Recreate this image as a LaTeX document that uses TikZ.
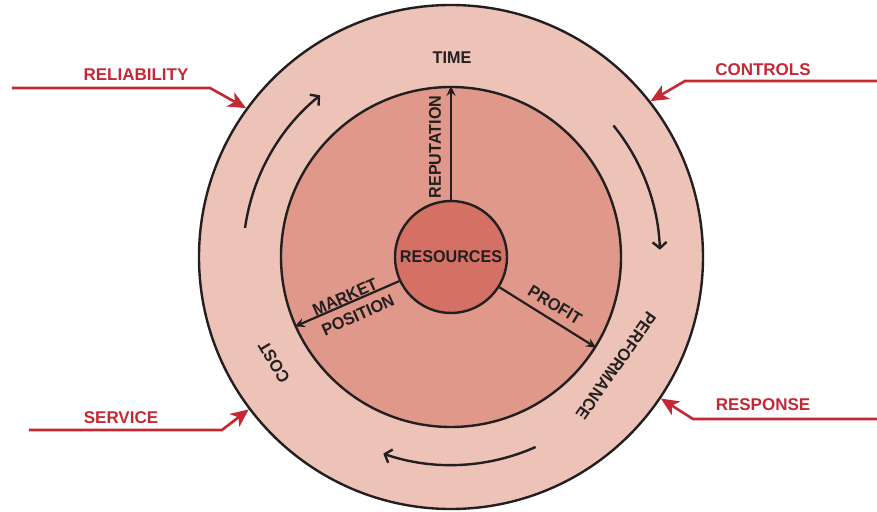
\documentclass[tikz,border=0pt]{standalone}
\usepackage{fontspec}
\setmainfont{Liberation Sans}
\newfontfamily\lblfont[FakeStretch=0.95]{Liberation Sans}
\usetikzlibrary{arrows.meta}
\definecolor{ringc}{RGB}{237,195,183}
\definecolor{midc}{RGB}{224,152,138}
\definecolor{corec}{RGB}{212,112,100}
\definecolor{redc}{RGB}{196,40,52}
\definecolor{inkc}{RGB}{35,31,32}
\begin{document}
\begin{tikzpicture}[x=1pt,y=1pt,
  ring/.style={circle,draw=inkc,line width=2.4pt,inner sep=0pt},
  lbl/.style={font=\lblfont\bfseries\fontsize{17}{19}\selectfont,text=inkc,inner sep=0pt},
  redlbl/.style={font=\bfseries\fontsize{17}{19}\selectfont,text=redc,inner sep=0pt},
  redarrow/.style={draw=redc,line width=2.6pt,-{Stealth[length=18pt,width=16pt,inset=5pt]}},
  spoke/.style={draw=inkc,line width=2.2pt,-{Stealth[length=10pt,width=9pt]}},
  cyc/.style={draw=inkc,line width=2.4pt,-{Straight Barb[length=6pt,width=14pt]}}]
\useasboundingbox (-451,-254) rectangle (426,257);
\node[ring,fill=ringc,minimum size=504pt] (outer) at (0,0) {};
\node[ring,fill=midc,minimum size=340pt] (inner) at (0,0) {};
\node[ring,fill=corec,minimum size=112pt] (core) at (0,0) {};
\node[lbl] (res) at (0,0.5) {RESOURCES};
% spokes
\draw[spoke] (core.90) -- (inner.90);
\draw[spoke] (core.205) -- (inner.204);
\draw[spoke] (core.-32) -- (inner.-32);
% cycle arrows
\draw[cyc] (172:208) arc[start angle=172,end angle=129,radius=208];
\draw[cyc] (39:209) arc[start angle=39,end angle=2,radius=209];
\draw[cyc] (-66:208) arc[start angle=-66,end angle=-109,radius=208];
% inner labels
\node[lbl] (time) at (1,199) {TIME};
\node[lbl,rotate=90] (rep) at (-16,110) {REPUTATION};
\node[lbl,rotate=24] (mkt) at (-106,-40) {MARKET};
\node[lbl,rotate=24] (pos) at (-93,-58) {POSITION};
\node[lbl,rotate=-31] (profit) at (104,-48) {PROFIT};
\node[lbl,rotate=-125] (perf) at (165,-109) {PERFORMANCE};
\node[lbl,rotate=121] (cost) at (-177,-105) {COST};
% red labels
\node[redlbl] (rel) at (-315,182) {RELIABILITY};
\node[redlbl] (ctl) at (312,187) {CONTROLS};
\node[redlbl] (svc) at (-330,-161) {SERVICE};
\node[redlbl] (rsp) at (312,-148) {RESPONSE};
% red arrows
\coordinate (relS) at (-439,169);
\coordinate (relB) at (-241,169);
\coordinate (ctlS) at (426,176);
\coordinate (ctlB) at (234,176);
\coordinate (svcS) at (-422,-173);
\coordinate (svcB) at (-229,-173);
\coordinate (rspS) at (426,-162);
\coordinate (rspB) at (242,-162);
\draw[redarrow] (relS) -- (relB) -- (outer.144);
\draw[redarrow] (ctlS) -- (ctlB) -- (outer.38);
\draw[redarrow] (svcS) -- (svcB) -- (outer.217);
\draw[redarrow] (rspS) -- (rspB) -- (outer.-34);
\end{tikzpicture}
\end{document}
